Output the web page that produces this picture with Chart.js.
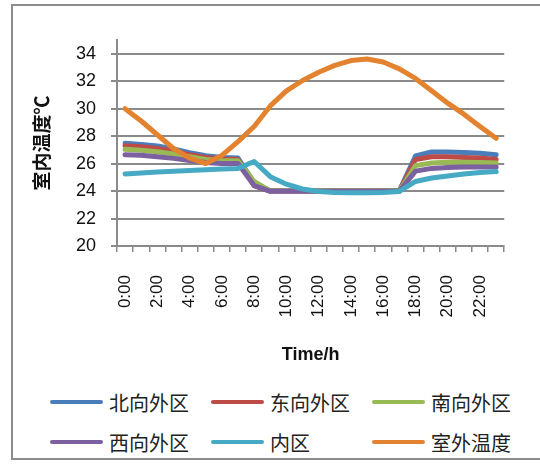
<!DOCTYPE html>
<html>
<head>
<meta charset="utf-8">
<script src="https://cdn.jsdelivr.net/npm/chart.js@4"></script>
<style>
  html, body { margin: 0; padding: 0; background: #fff; width: 540px; height: 464px; overflow: hidden; }
  #frame { position: absolute; left: 11px; top: 4px; width: 560px; height: 456px; border: 2px solid #8c8c8c; box-sizing: border-box; }
  #wrap { position: absolute; left: 0; top: 0; width: 540px; height: 372px; }
  #legend { position: absolute; left: 0; top: 382px; width: 540px; }
  .item { position: absolute; height: 40px; display: flex; align-items: center; font-family: "Noto Sans CJK SC", sans-serif; font-size: 20px; color: #222; }
  .item span.ln { display: inline-block; width: 53px; height: 4px; border-radius: 2px; margin-right: 6px; }
</style>
</head>
<body>
<div id="frame"></div>
<div id="wrap"><canvas id="line_chart"></canvas></div>
<div id="legend"></div>
<script>
// hourly readings, 0:00 - 23:00
let hours = [];
for (let h = 0; h < 24; h++) hours.push(h + ':00');

let yTicks = [20, 22, 24, 26, 28, 30, 32, 34];

let names = ['北向外区', '东向外区', '南向外区', '西向外区', '内区', '室外温度'];
let colors = ['#4A7EBB', '#BE4B48', '#98B954', '#7D60A0', '#46AAC5', '#E3822F'];

let north = [27.48, 27.4, 27.28, 27.06, 26.8, 26.58, 26.45, 26.4, 24.6, 24.02, 24.02, 24.02,
             24.02, 24.02, 24.02, 24.02, 24.02, 24.02, 26.55, 26.85, 26.85, 26.8, 26.75, 26.65];
let east = [27.3, 27.22, 27.1, 26.9, 26.65, 26.45, 26.33, 26.3, 24.4, 24.0, 24.0, 24.0,
            24.0, 24.0, 24.0, 24.0, 24.0, 24.0, 26.3, 26.5, 26.5, 26.45, 26.4, 26.3];
let south = [27.04, 26.97, 26.87, 26.7, 26.5, 26.3, 26.2, 26.2, 24.7, 24.0, 24.0, 24.0,
             24.0, 24.0, 24.0, 24.0, 24.0, 24.0, 25.85, 26.05, 26.1, 26.1, 26.08, 26.05];
let west = [26.65, 26.6, 26.5, 26.38, 26.23, 26.08, 26.0, 26.0, 24.4, 23.98, 23.98, 23.98,
            23.98, 23.98, 23.98, 23.98, 23.98, 23.98, 25.45, 25.65, 25.72, 25.75, 25.75, 25.75];
let inner = [25.25, 25.32, 25.38, 25.44, 25.5, 25.55, 25.6, 25.65, 26.15, 25.05, 24.5, 24.15,
             23.97, 23.9, 23.88, 23.88, 23.9, 23.97, 24.7, 24.95, 25.1, 25.25, 25.35, 25.42];
let outdoor = [30.0, 29.1, 28.1, 27.1, 26.4, 26.0, 26.6, 27.6, 28.7, 30.2, 31.3, 32.05,
               32.65, 33.15, 33.5, 33.62, 33.4, 32.9, 32.2, 31.3, 30.4, 29.6, 28.7, 27.84];

let series = [north, east, south, west, inner, outdoor];

const grey = '#8a8a8a';

let datasets = series.map((s, i) => ({
    label: names[i],
    data: s,
    borderColor: colors[i],
    backgroundColor: colors[i],
    borderWidth: 5,
    pointRadius: 0,
    tension: 0,
    borderCapStyle: 'round',
    borderJoinStyle: 'round',
    order: series.length - i   // later series drawn on top
}));

var ctx = document.getElementById('line_chart').getContext('2d');
var line_chart = new Chart(ctx, {
    type: 'line',
    data: { labels: hours, datasets: datasets },
    options: {
        responsive: true,
        maintainAspectRatio: false,
        animation: false,
        layout: { padding: { left: 0, right: 22, top: 40, bottom: 0 } },
        plugins: { legend: { display: false }, tooltip: { enabled: false } },
        scales: {
            x: {
                offset: true,
                afterFit: scale => { scale.height = 126; },
                grid: { offset: true, drawOnChartArea: false, drawTicks: true, tickLength: 6, color: grey, lineWidth: 1.5 },
                border: { display: true, color: grey, width: 2 },
                ticks: {
                    autoSkip: false,
                    minRotation: 90,
                    maxRotation: 90,
                    padding: 23,
                    color: '#111',
                    font: { family: 'Liberation Sans', size: 17 },
                    callback: (v, i) => (i % 2 ? '' : hours[i])
                },
                title: {
                    display: true,
                    text: 'Time/h',
                    color: '#111',
                    padding: { top: 4, bottom: 6 },
                    font: { family: 'Liberation Sans', size: 18, weight: 'bold' }
                }
            },
            y: {
                min: 20,
                max: 35,
                afterFit: scale => { scale.width = 117; },
                afterBuildTicks: scale => { scale.ticks = yTicks.map(v => ({ value: v })); },
                grid: { color: grey, lineWidth: 2, tickLength: 6 },
                border: { display: true, color: grey, width: 2 },
                ticks: {
                    padding: 15,
                    color: '#111',
                    font: { family: 'Liberation Sans', size: 18 }
                },
                title: {
                    display: true,
                    text: '室内温度℃',
                    color: '#111',
                    padding: { top: 30, bottom: 0 },
                    font: { family: 'Noto Sans CJK SC', size: 19, weight: 'bold' }
                }
            }
        }
    }
});

// legend, three columns by two rows
let legend = document.getElementById('legend');
let colX = [50, 211, 372];
names.forEach((n, i) => {
    let d = document.createElement('div');
    d.className = 'item';
    d.style.left = colX[i % 3] + 'px';
    d.style.top = (Math.floor(i / 3) * 40) + 'px';
    d.innerHTML = `<span class="ln" style="background:${colors[i]}"></span>${n}`;
    legend.appendChild(d);
});
</script>
</body>
</html>
